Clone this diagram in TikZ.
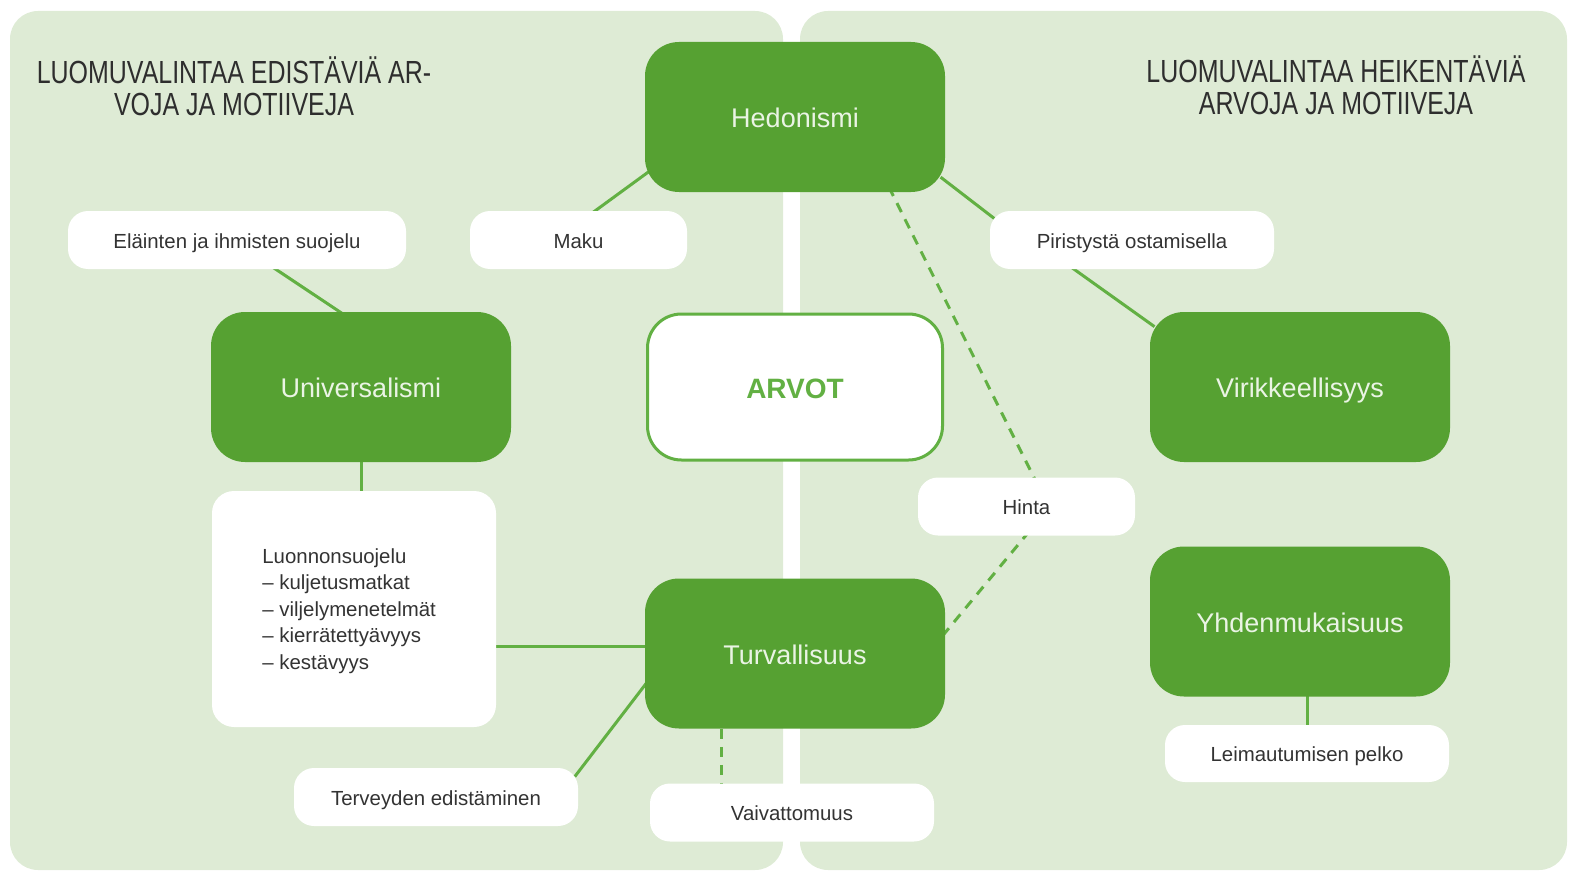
\documentclass[tikz,border=0pt]{standalone}
\usepackage{fontspec}
\setmainfont{Liberation Sans}
\newfontfamily\titlefont[FakeStretch=0.78]{Liberation Sans}
\usetikzlibrary{calc}
\pgfdeclarelayer{bg}
\pgfdeclarelayer{mid}
\pgfsetlayers{bg,mid,main}
\definecolor{panel}{HTML}{DEEBD5}
\definecolor{dgreen}{HTML}{56A132}
\definecolor{lgreen}{HTML}{62B043}
\definecolor{txt}{HTML}{333333}
\definecolor{ttl}{HTML}{2E2E2E}
\definecolor{lighttxt}{HTML}{EAF4E4}
\begin{document}
\begin{tikzpicture}[x=0.5pt,y=-0.5pt,
  gbox/.style={fill=dgreen, rounded corners=17pt, minimum width=150pt, minimum height=75pt,
    text=lighttxt, font=\fontsize{13.5}{16}\selectfont, inner sep=0pt,
    text height=13.5pt, text depth=3pt},
  wbox/.style={fill=white, rounded corners=10pt, minimum height=29pt, text=txt,
    font=\fontsize{10.2}{12}\selectfont, inner sep=0pt, text height=10.3pt, text depth=2pt},
  conn/.style={draw=lgreen, line width=1.5pt, shorten <=-3pt, shorten >=-3pt},
  dconn/.style={conn, dash pattern=on 5pt off 4pt},
  ttlstyle/.style={align=center, text=ttl, font=\titlefont\fontsize{16}{16}\selectfont, inner sep=0pt}]
\useasboundingbox (0,0) rectangle (1569,872);
\begin{pgfonlayer}{bg}
  \fill[panel, rounded corners=14pt] (10,11) rectangle (783,870);
  \fill[panel, rounded corners=14pt] (800,11) rectangle (1567,870);
\end{pgfonlayer}

% titles
\node[ttlstyle] (tl) at (234,86) {LUOMUVALINTAA EDISTÄVIÄ AR-\\VOJA JA MOTIIVEJA};
\node[ttlstyle] (tr) at (1336,85) {LUOMUVALINTAA HEIKENTÄVIÄ\\ARVOJA JA MOTIIVEJA};

% green boxes
\node[gbox] (hed) at (795,117) {Hedonismi};
\node[gbox] (uni) at (361,387) {Universalismi};
\node[gbox] (vir) at (1300,387) {Virikkeellisyys};
\node[gbox] (turv) at (795,653.5) {Turvallisuus};
\node[gbox] (yhd) at (1300,621.5) {Yhdenmukaisuus};

% center
\node[fill=white, draw=lgreen, line width=1.5pt, rounded corners=17pt, minimum width=147.5pt,
  minimum height=73pt, inner sep=0pt, text=lgreen, font=\bfseries\fontsize{14}{16}\selectfont,
  text height=13pt, text depth=2pt]
  (arvot) at (795,387) {ARVOT};

% white boxes
\node[wbox, minimum width=169pt] (ela) at (237,240) {Eläinten ja ihmisten suojelu};
\node[wbox, minimum width=108.5pt] (maku) at (578.5,240) {Maku};
\node[wbox, minimum width=142pt] (pir) at (1132,240) {Piristystä ostamisella};
\node[wbox, minimum width=108.5pt] (hinta) at (1026.5,506.5) {Hinta};
\node[wbox, minimum width=142pt] (ter) at (436,797) {Terveyden edistäminen};
\node[wbox, minimum width=142pt] (vai) at (792,812.5) {Vaivattomuus};
\node[wbox, minimum width=142pt, minimum height=28.5pt] (leim) at (1307,753.5) {Leimautumisen pelko};
\node[fill=white, rounded corners=11pt, minimum width=142pt, minimum height=118pt, inner sep=0pt]
  (luon) at (354,609) {};
\node[anchor=west, align=left, inner sep=0pt, text=txt,
  font=\fontsize{10.2}{13.3}\selectfont] (luontxt) at (262,611)
  {Luonnonsuojelu\\– kuljetusmatkat\\– viljelymenetelmät\\– kierrätettyävyys\\– kestävyys};

% connectors
\begin{pgfonlayer}{mid}
  \draw[conn] (hed.201) -- (maku.60);
  \draw[conn] (hed.-23) -- (pir.170);
  \draw[dconn] (hed.-38) -- (hinta.76);
  \draw[dconn] (hinta.-92) -- (turv.8);
  \draw[conn] (ela.-37) -- (uni.106);
  \draw[conn] (pir.207) -- (vir.157);
  \draw[conn] (uni.south) -- (uni.south |- luon.north);
  \path (turv.west) ++(0,-7.5) coordinate (tw);
  \draw[conn] (tw) -- (tw -| luon.east);
  \draw[conn] (turv.192) -- (ter.10);
  \coordinate (ts) at ($(turv.south west)!0.257!(turv.south east)$);
  \draw[dconn, shorten <=0pt, shorten >=0pt] (ts) -- (ts |- vai.north);
  \draw[conn] (leim.north) -- (leim.north |- yhd.south);
\end{pgfonlayer}
\end{tikzpicture}
\end{document}
